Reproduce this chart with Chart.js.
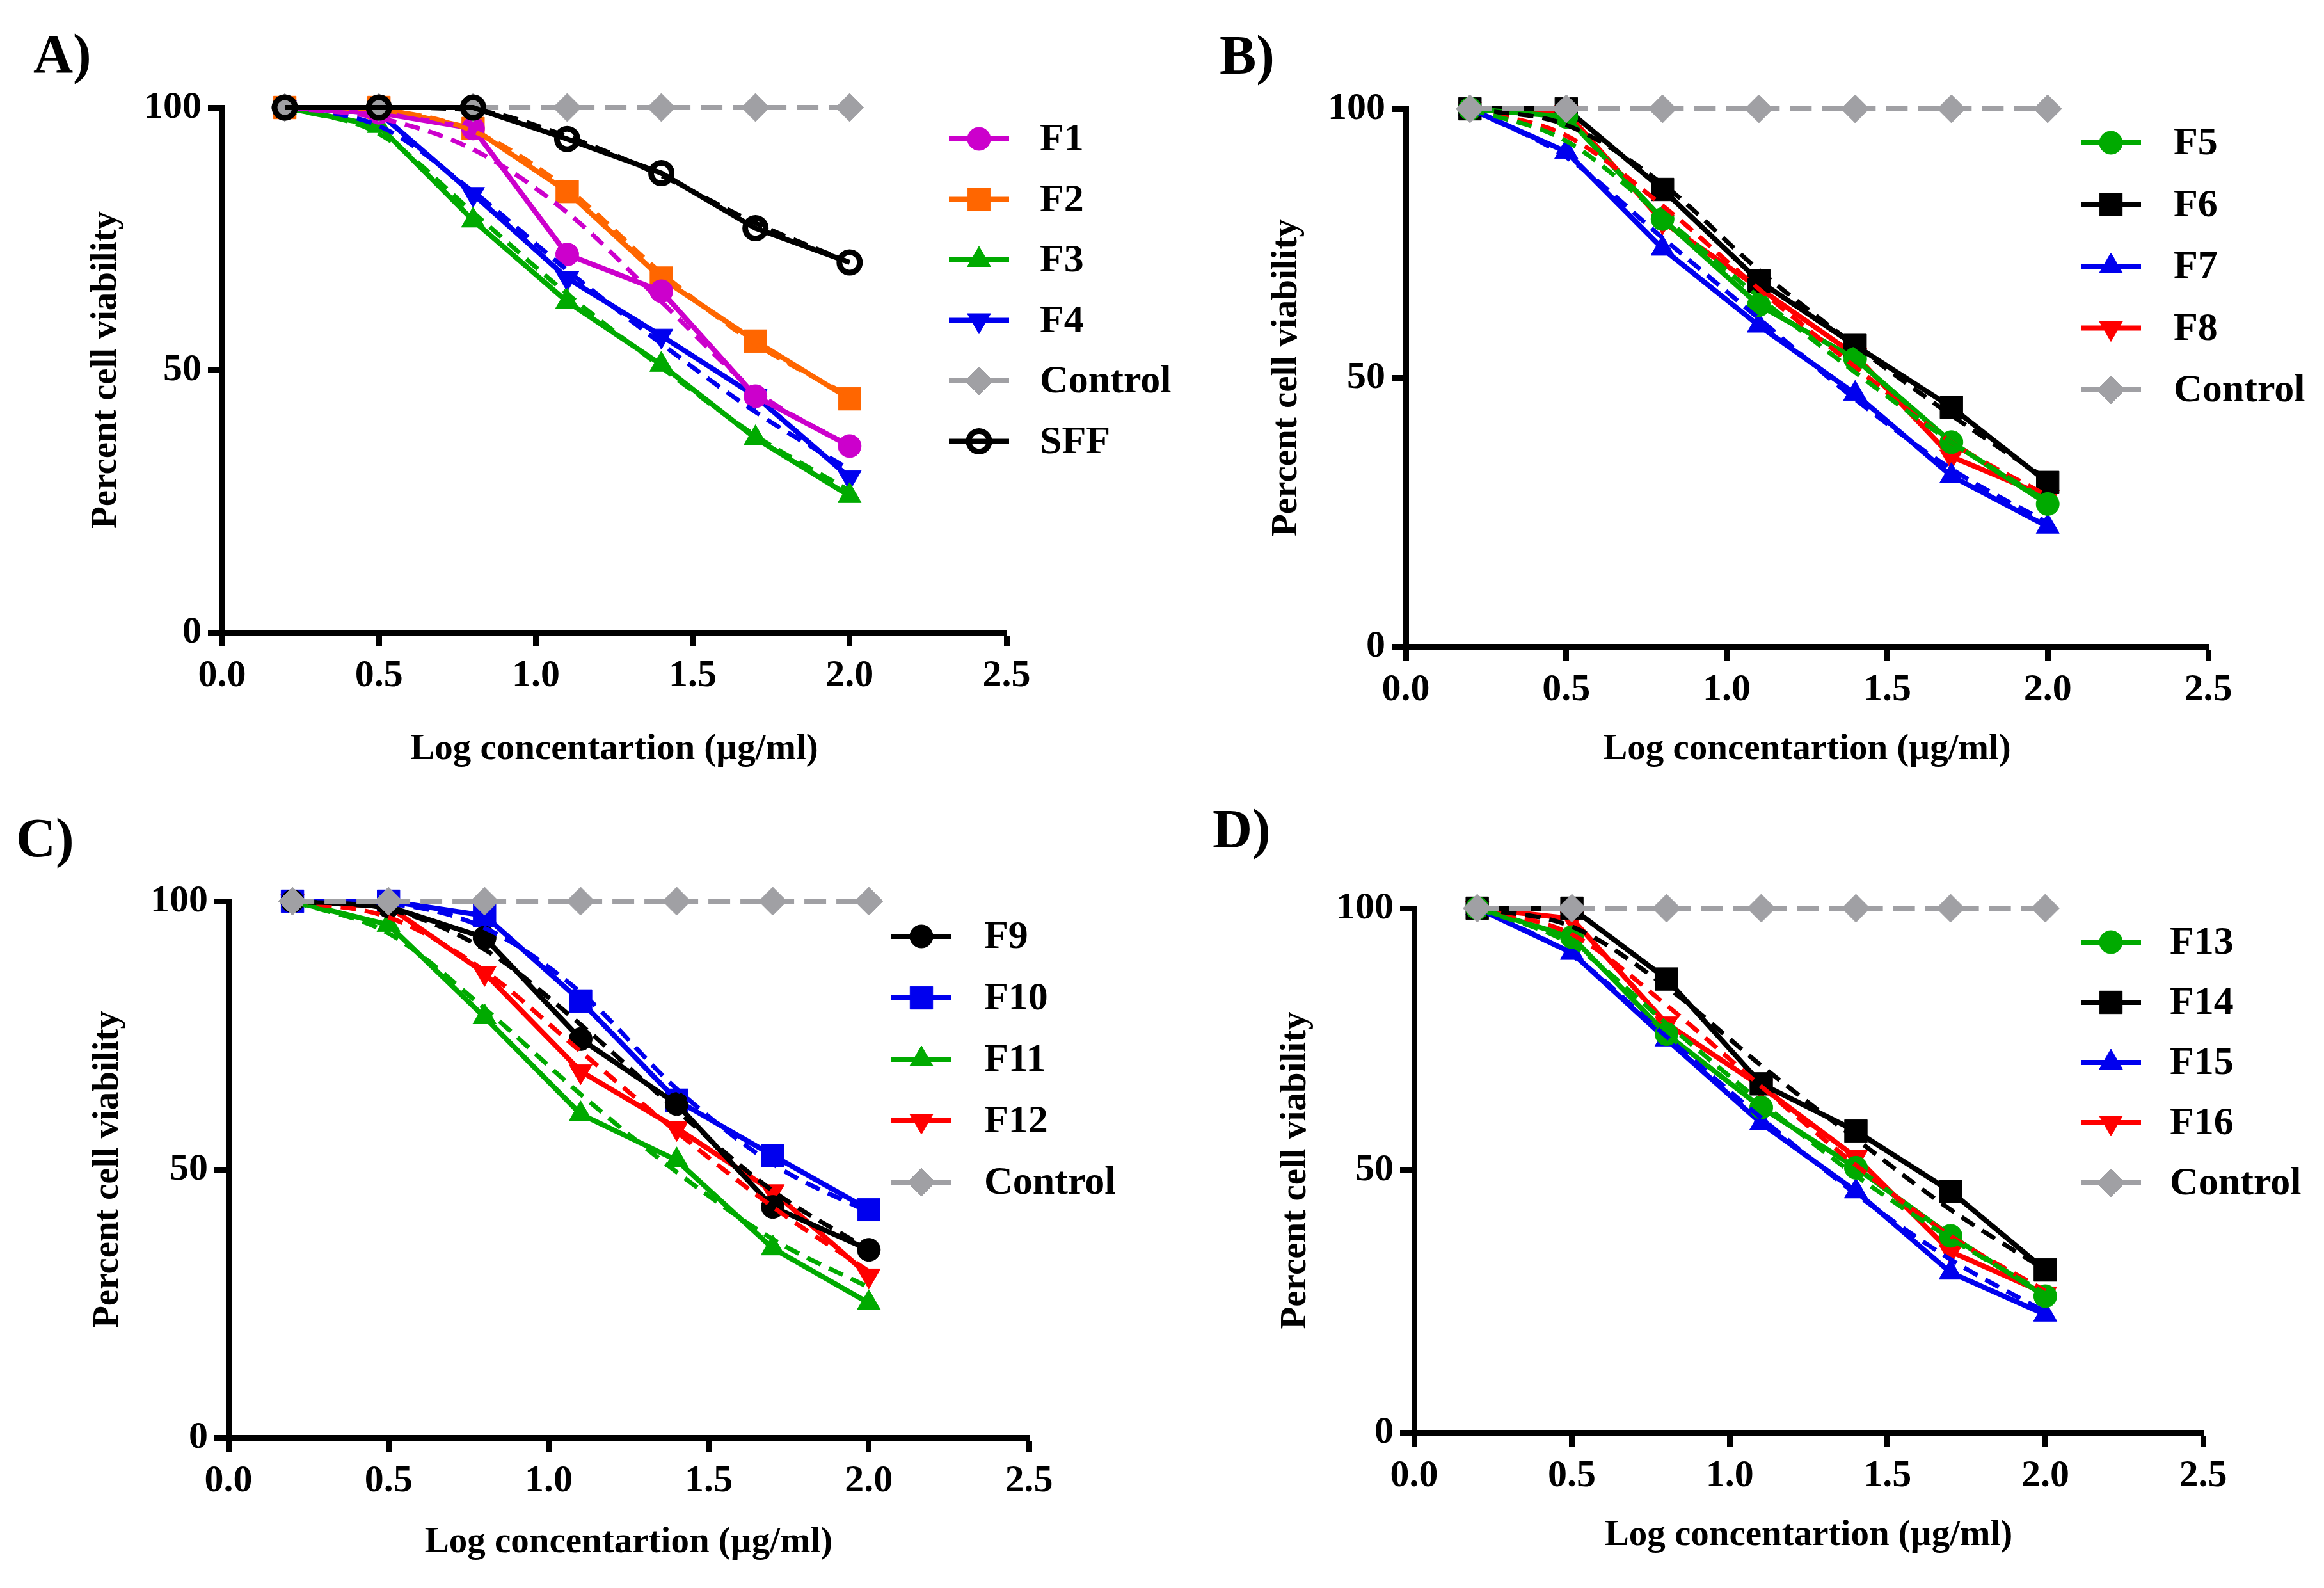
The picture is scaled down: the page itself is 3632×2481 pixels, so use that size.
<!DOCTYPE html>
<html>
<head>
<meta charset="utf-8">
<script src="https://cdn.jsdelivr.net/npm/chart.js@4.4.1/dist/chart.umd.min.js"></script>
<style>
  body { margin: 0; background: #fff; }
  #page { position: relative; width: 3632px; height: 2481px; background: #fff; overflow: hidden; }
  canvas { position: absolute; }
</style>
</head>
<body>
<div id="page">
  <canvas id="panelA" width="1880" height="1240" style="left:0;top:0"></canvas>
  <canvas id="panelB" width="1752" height="1240" style="left:1880px;top:0"></canvas>
  <canvas id="panelC" width="1880" height="1241" style="left:0;top:1240px"></canvas>
  <canvas id="panelD" width="1752" height="1241" style="left:1880px;top:1240px"></canvas>
</div>
<script>
// log concentration (x) shared by every panel
var logConc = [0.2, 0.5, 0.8, 1.1, 1.4, 1.7, 2.0];
var xTicks = [0.0, 0.5, 1.0, 1.5, 2.0, 2.5];
var yTicks = [0, 50, 100];

var control = [100, 100, 100, 100, 100, 100, 100];

// panel A
var f1 = [100, 99, 96, 72, 65, 45, 35.5];
var f1Fit = [100, 98, 92, 80, 63, 46, 35.5];
var f2 = [100, 100, 96, 84, 67.5, 55.5, 44.5];
var f2Fit = [100, 99.5, 95.5, 84.5, 68.5, 55, 45];
var f3 = [100, 96.5, 78.5, 63, 51, 37, 26];
var f3Fit = [100, 95, 80, 64.5, 50.5, 37.5, 27];
var f4 = [100, 99, 83.5, 67.5, 56.5, 45, 29.5];
var f4Fit = [100, 96.5, 84, 69, 55, 42, 31];
var sff = [100, 100, 100, 94, 87.5, 77, 70.5];
var sffFit = [100, 100, 99.5, 94.5, 87, 78, 70.5];

// panel B
var f5 = [100, 98.5, 79.5, 63.5, 53.5, 38, 26.5];
var f5Fit = [100, 94, 80, 65, 51, 38, 27];
var f6 = [100, 100, 85, 68, 56, 44.5, 30.5];
var f6Fit = [100, 97, 86, 70, 56, 43, 31];
var f7 = [100, 92, 74, 59.7, 47, 31.7, 22.3];
var f7Fit = [100, 91, 76, 61, 46, 33, 23];
var f8 = [100, 99.4, 79, 66.7, 54.2, 35.3, 27.8];
var f8Fit = [100, 95, 82, 66.5, 52, 38, 28];

// panel C
var f9 = [100, 99, 93.2, 74.3, 62.2, 43, 35];
var f9Fit = [100, 98.5, 91, 77, 61, 46, 35];
var f10 = [100, 100, 97.3, 81.4, 62.9, 52.6, 42.5];
var f10Fit = [100, 99.5, 95, 83, 65, 51, 42];
var f11 = [100, 95.6, 78.4, 60.3, 51.7, 35.3, 25.1];
var f11Fit = [100, 94, 80, 64, 49.5, 37, 28];
var f12 = [100, 99, 86.6, 68.3, 57.7, 45.9, 30.2];
var f12Fit = [100, 97, 87, 72, 57, 43, 31];

// panel D
var f13 = [100, 94.5, 76, 62, 50.5, 37.5, 26];
var f13Fit = [100, 93, 78, 63, 49, 37, 26.5];
var f14 = [100, 100, 86.5, 66.5, 57.5, 46, 31];
var f14Fit = [100, 96.5, 85, 70, 56, 42.5, 31];
var f15 = [100, 91.5, 75, 59, 46, 30.5, 22.5];
var f15Fit = [100, 91, 75.5, 60, 45.5, 33, 23];
var f16 = [100, 98, 78, 66, 52.5, 34.5, 26.5];
var f16Fit = [100, 95, 81.5, 66, 51, 37.5, 27];

var MAGENTA = '#cc00cc', ORANGE = '#ff6600', GREEN = '#00aa00', BLUE = '#0000ee',
    RED = '#ff0000', BLACK = '#000000', GREY = '#a0a0a4';
var FONT = '"Liberation Serif", "Times New Roman", serif';

function pts(values) {
  return values.map(function (v, i) { return { x: logConc[i], y: v }; });
}

var markers = {
  circle: { pointStyle: 'circle', pointRadius: 18, pointRotation: 0 },
  square: { pointStyle: 'rect', pointRadius: 25, pointRotation: 0 },
  up: { pointStyle: 'triangle', pointRadius: 21, pointRotation: 0 },
  down: { pointStyle: 'triangle', pointRadius: 21, pointRotation: 180 },
  diamond: { pointStyle: 'rectRot', pointRadius: 22, pointRotation: 0 }
};

function series(label, values, color, marker) {
  var m = markers[marker];
  return {
    label: label, data: pts(values), borderColor: color, borderWidth: 8,
    pointStyle: m.pointStyle, pointRadius: m.pointRadius, pointRotation: m.pointRotation,
    pointBackgroundColor: color, pointBorderColor: color, pointBorderWidth: 1,
    pointHoverRadius: m.pointRadius, clip: false, order: 3
  };
}

function fit(values, color) {
  return {
    label: '', isFit: true, data: pts(values), borderColor: color, borderWidth: 7,
    borderDash: [24, 14], pointRadius: 0, pointHoverRadius: 0,
    cubicInterpolationMode: 'monotone', clip: false, order: 2
  };
}

function controlSeries() {
  var s = series('Control', control, GREY, 'diamond');
  s.borderDash = [34, 16];
  s.borderWidth = 8;
  s.order = 1;
  return s;
}

function sffSeries() {
  var s = series('SFF', sff, BLACK, 'circle');
  s.pointBackgroundColor = 'rgba(0,0,0,0)';
  s.pointBorderWidth = 9;
  s.pointRadius = 16;
  s.order = 0;
  return s;
}

// draws the panel tag and the legend in the free space right of the plot
var figurePlugin = {
  id: 'figure',
  afterDraw: function (chart, args, o) {
    var ctx = chart.ctx;
    ctx.save();
    ctx.fillStyle = '#000';
    ctx.font = 'bold 86px ' + FONT;
    ctx.textBaseline = 'alphabetic';
    ctx.textAlign = 'left';
    ctx.fillText(o.tag, o.tagX, o.tagY);

    var items = chart.data.datasets.filter(function (d) { return !d.isFit; });
    items.forEach(function (d, i) {
      var y = o.legendY + i * o.legendGap;
      ctx.strokeStyle = d.borderColor;
      ctx.lineWidth = d.borderWidth;
      ctx.setLineDash(d.borderDash ? [42, 14] : []);
      ctx.beginPath();
      ctx.moveTo(o.legendX, y);
      ctx.lineTo(o.legendX + 94, y);
      ctx.stroke();
      ctx.setLineDash([]);
      ctx.fillStyle = d.pointBackgroundColor;
      ctx.strokeStyle = d.pointBorderColor;
      ctx.lineWidth = d.pointBorderWidth;
      Chart.helpers.drawPoint(ctx, {
        pointStyle: d.pointStyle, rotation: d.pointRotation, radius: d.pointRadius,
        borderWidth: d.pointBorderWidth
      }, o.legendX + 47, y);
      ctx.fillStyle = '#000';
      ctx.font = 'bold 62px ' + FONT;
      ctx.textBaseline = 'middle';
      ctx.fillText(d.label, o.textX, y + 2);
    });
    ctx.restore();
  }
};

function makePanel(id, datasets, lay) {
  var tickFont = { family: FONT, size: 60, weight: 'bold' };
  var titleFont = { family: FONT, size: 57, weight: 'bold' };
  return new Chart(document.getElementById(id), {
    type: 'line',
    data: { datasets: datasets },
    plugins: [figurePlugin],
    options: {
      responsive: false,
      devicePixelRatio: 1,
      animation: false,
      events: [],
      layout: { padding: { left: 0, top: lay.top, right: lay.right, bottom: 0 } },
      plugins: {
        legend: { display: false },
        tooltip: { enabled: false },
        figure: lay.figure
      },
      scales: {
        x: {
          type: 'linear', min: 0, max: 2.5,
          afterBuildTicks: function (s) { s.ticks = xTicks.map(function (v) { return { value: v }; }); },
          ticks: { font: tickFont, color: '#000', padding: 10, maxRotation: 0,
                   callback: function (v) { return Number(v).toFixed(1); } },
          grid: { drawOnChartArea: false, tickLength: 22, tickWidth: 9, tickColor: '#000' },
          border: { color: '#000', width: 9 },
          title: { display: true, text: 'Log concentartion (µg/ml)', font: titleFont, color: '#000',
                   padding: { top: 0, bottom: lay.xTitlePad } },
          afterFit: function (s) { s.height = lay.xAxisH; }
        },
        y: {
          min: 0, max: 100,
          afterBuildTicks: function (s) { s.ticks = yTicks.map(function (v) { return { value: v }; }); },
          ticks: { font: tickFont, color: '#000', padding: 10 },
          grid: { drawOnChartArea: false, tickLength: 22, tickWidth: 9, tickColor: '#000' },
          border: { color: '#000', width: 9 },
          title: { display: true, text: 'Percent cell viability', font: titleFont, color: '#000',
                   padding: { top: lay.yTitlePad, bottom: 0 } },
          afterFit: function (s) { s.width = lay.yAxisW; }
        }
      }
    }
  });
}

makePanel('panelA', [
  series('F1', f1, MAGENTA, 'circle'), fit(f1Fit, MAGENTA),
  series('F2', f2, ORANGE, 'square'), fit(f2Fit, ORANGE),
  series('F3', f3, GREEN, 'up'), fit(f3Fit, GREEN),
  series('F4', f4, BLUE, 'down'), fit(f4Fit, BLUE),
  controlSeries(),
  sffSeries(), fit(sffFit, BLACK)
], { top: 168, right: 307, xAxisH: 252, yAxisW: 347, xTitlePad: 35, yTitlePad: 132,
     figure: { tag: 'A)', tagX: 52, tagY: 113, legendX: 1483, textX: 1625, legendY: 217, legendGap: 94.5 } });

makePanel('panelB', [
  series('F5', f5, GREEN, 'circle'), fit(f5Fit, GREEN),
  series('F6', f6, BLACK, 'square'), fit(f6Fit, BLACK),
  series('F7', f7, BLUE, 'up'), fit(f7Fit, BLUE),
  series('F8', f8, RED, 'down'), fit(f8Fit, RED),
  controlSeries()
], { top: 170, right: 181, xAxisH: 230, yAxisW: 317, xTitlePad: 35, yTitlePad: 97,
     figure: { tag: 'B)', tagX: 26, tagY: 115, legendX: 1372, textX: 1517, legendY: 223, legendGap: 96.5 } });

makePanel('panelC', [
  series('F9', f9, BLACK, 'circle'), fit(f9Fit, BLACK),
  series('F10', f10, BLUE, 'square'), fit(f10Fit, BLUE),
  series('F11', f11, GREEN, 'up'), fit(f11Fit, GREEN),
  series('F12', f12, RED, 'down'), fit(f12Fit, RED),
  controlSeries()
], { top: 168, right: 272, xAxisH: 235, yAxisW: 357, xTitlePad: 37, yTitlePad: 135,
     figure: { tag: 'C)', tagX: 25, tagY: 98, legendX: 1393, textX: 1538, legendY: 223, legendGap: 96 } });

makePanel('panelD', [
  series('F13', f13, GREEN, 'circle'), fit(f13Fit, GREEN),
  series('F14', f14, BLACK, 'square'), fit(f14Fit, BLACK),
  series('F15', f15, BLUE, 'up'), fit(f15Fit, BLUE),
  series('F16', f16, RED, 'down'), fit(f16Fit, RED),
  controlSeries()
], { top: 179, right: 189, xAxisH: 243, yAxisW: 330, xTitlePad: 48, yTitlePad: 111,
     figure: { tag: 'D)', tagX: 15, tagY: 84, legendX: 1372, textX: 1511, legendY: 232, legendGap: 94 } });
</script>
</body>
</html>
